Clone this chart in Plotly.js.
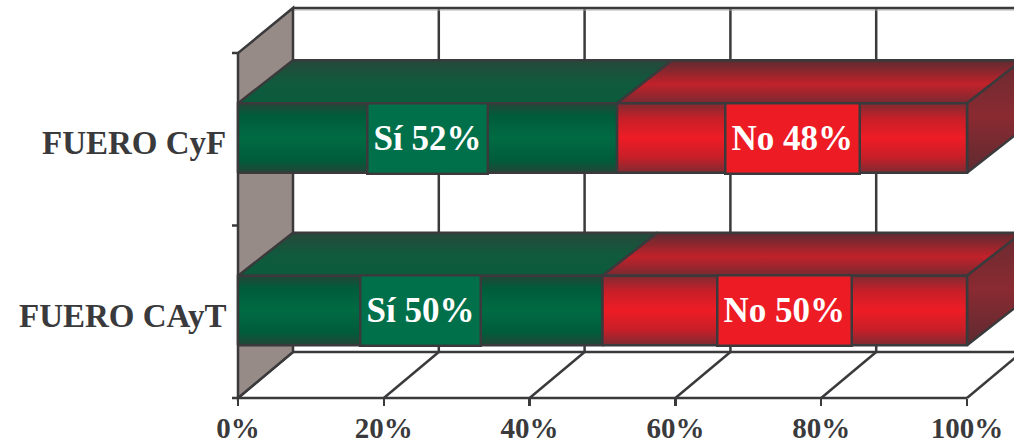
<!DOCTYPE html>
<html><head><meta charset="utf-8">
<script src="https://cdn.plot.ly/plotly-3.0.1.min.js"></script>
<style>html,body{margin:0;padding:0;background:#fff}#chart{width:1014px;height:446px}</style>
</head><body><div id="chart"></div>
<script>
// ---- data ----
const categories = ['FUERO CAyT', 'FUERO CyF'];
const seriesNames = ['Sí', 'No'];
const siValues = [50, 52];
const noValues = [50, 48];
const xTickVals = [0, 20, 40, 60, 80, 100];
const xTickText = ['0%', '20%', '40%', '60%', '80%', '100%'];

// ---- geometry / style ----
const PXU = 7.29;                 // px per percent unit
const DX = 55 / PXU;              // depth offset in x units
const WALL_DY = 46, BAR_DY = 43;  // depth offset in y units (1 unit = 1 px)
const CAT_STEP = 172.5, CAT_OFF = 87.5, HALF = 34.75;
const INK = '#3a3a3c', LW = 2.5;
const FONT = 'Liberation Serif, Times New Roman, serif';

const palette = {
  'Sí': {
    front: [[0,'#244538'],[0.18,'#005c3b'],[0.5,'#006b43'],[0.82,'#005c3b'],[1,'#244538']],
    top:   [[0,'#0a5c3c'],[0.5,'#115a3d'],[1,'#26483a']],
    side:  [[0,'#1f4636'],[0.5,'#0b5a3c'],[1,'#244538']],
    box: '#00704a'
  },
  'No': {
    front: [[0,'#7e2b32'],[0.22,'#c71f28'],[0.5,'#ee1c25'],[0.78,'#c71f28'],[1,'#7e2b32']],
    top:   [[0,'#7a2a31'],[0.45,'#c2212a'],[1,'#5c2b31']],
    side:  [[0,'#5e2b31'],[0.5,'#8a2a31'],[1,'#6a2b31']],
    box: '#ed1c24'
  }
};

function poly(xs, ys, cs) {
  return {
    type: 'scatter', mode: 'lines', x: xs.concat([xs[0]]), y: ys.concat([ys[0]]),
    fill: 'toself', fillgradient: {type: 'vertical', colorscale: cs},
    line: {color: INK, width: LW}, hoverinfo: 'skip', showlegend: false
  };
}

const traces = [];
const annotations = [];
categories.forEach((cat, i) => {
  const vals = [siValues[i], noValues[i]];
  const yc = CAT_OFF + CAT_STEP * i;
  const yb = yc - HALF, yt = yc + HALF;
  let x0 = 0;
  const segs = vals.map((v, s) => { const seg = {s, v, x0, x1: x0 + v}; x0 += v; return seg; });
  // top faces
  segs.forEach(g => {
    const p = palette[seriesNames[g.s]];
    traces.push(poly([g.x0, g.x1, g.x1 + DX, g.x0 + DX], [yt, yt, yt + BAR_DY, yt + BAR_DY], p.top));
  });
  // right side face of last segment
  const last = segs[segs.length - 1];
  traces.push(poly([last.x1, last.x1 + DX, last.x1 + DX, last.x1], [yb, yb + BAR_DY, yt + BAR_DY, yt], palette[seriesNames[last.s]].side));
  // front faces + labels
  segs.forEach(g => {
    const p = palette[seriesNames[g.s]];
    traces.push(poly([g.x0, g.x1, g.x1, g.x0], [yb, yb, yt, yt], p.front));
    annotations.push({
      x: (g.x0 + g.x1) / 2, y: yc, xref: 'x', yref: 'y', showarrow: false,
      text: seriesNames[g.s] + ' ' + g.v + '%',
      font: {family: FONT, size: 35, color: '#ffffff', weight: 'bold'},
      bgcolor: p.box, bordercolor: INK, borderwidth: LW, borderpad: 5, height: 58
    });
  });
  // category label
  annotations.push({
    x: 0, y: yc, xref: 'x', yref: 'y', xanchor: 'right', xshift: -10, yshift: -5, showarrow: false,
    text: cat, font: {family: FONT, size: 33, color: INK, weight: 'bold'}
  });
});

// ---- walls / floor ----
const shapes = [];
const L = (x0, y0, x1, y1, extra) => Object.assign({type: 'line', xref: 'x', yref: 'y', x0, y0, x1, y1, layer: 'below', line: {color: INK, width: LW}}, extra || {});
const TOPY = 390, LEFTTOP = 345, XEND = 200;
// back wall gridlines
xTickVals.forEach(v => { if (v > 0) shapes.push(L(v + DX, WALL_DY, v + DX, TOPY)); });
shapes.push(L(DX, TOPY - 2, XEND, TOPY - 2, {line: {color: '#b0b0b0', width: 1}}));
shapes.push(L(DX, TOPY, XEND, TOPY));
// floor
shapes.push(L(DX, WALL_DY, 100 + DX, WALL_DY));
xTickVals.forEach(v => shapes.push(L(v, 0, v + DX, WALL_DY)));
shapes.push(L(0, 0, 100, 0));
// left wall
shapes.push({type: 'path', xref: 'x', yref: 'y', layer: 'below',
  path: `M 0 0 L 0 ${LEFTTOP} L ${DX} ${TOPY} L ${DX} ${WALL_DY} Z`,
  fillcolor: '#978b87', line: {color: INK, width: LW}});
// left axis tick marks
[0, CAT_STEP, 2 * CAT_STEP].forEach(y => shapes.push(L(-6 / PXU, y, 0, y)));

const layout = {
  width: 1014, height: 446,
  margin: {l: 200, r: 0, t: 0, b: 36},
  paper_bgcolor: '#ffffff', plot_bgcolor: '#ffffff',
  showlegend: false,
  xaxis: {
    range: [-38 / PXU, 776 / PXU], anchor: 'free', position: 12 / 410,
    tickmode: 'array', tickvals: xTickVals, ticktext: xTickText,
    ticks: 'outside', ticklen: 7, tickwidth: LW, tickcolor: INK, ticklabelstandoff: -3,
    showgrid: false, zeroline: false, showline: false, fixedrange: true,
    tickfont: {family: FONT, size: 29, color: INK, weight: 'bold'}
  },
  yaxis: {range: [-12, 398], visible: false, fixedrange: true},
  shapes, annotations
};

Plotly.newPlot('chart', traces, layout, {displayModeBar: false, staticPlot: true});
</script>
</body></html>
